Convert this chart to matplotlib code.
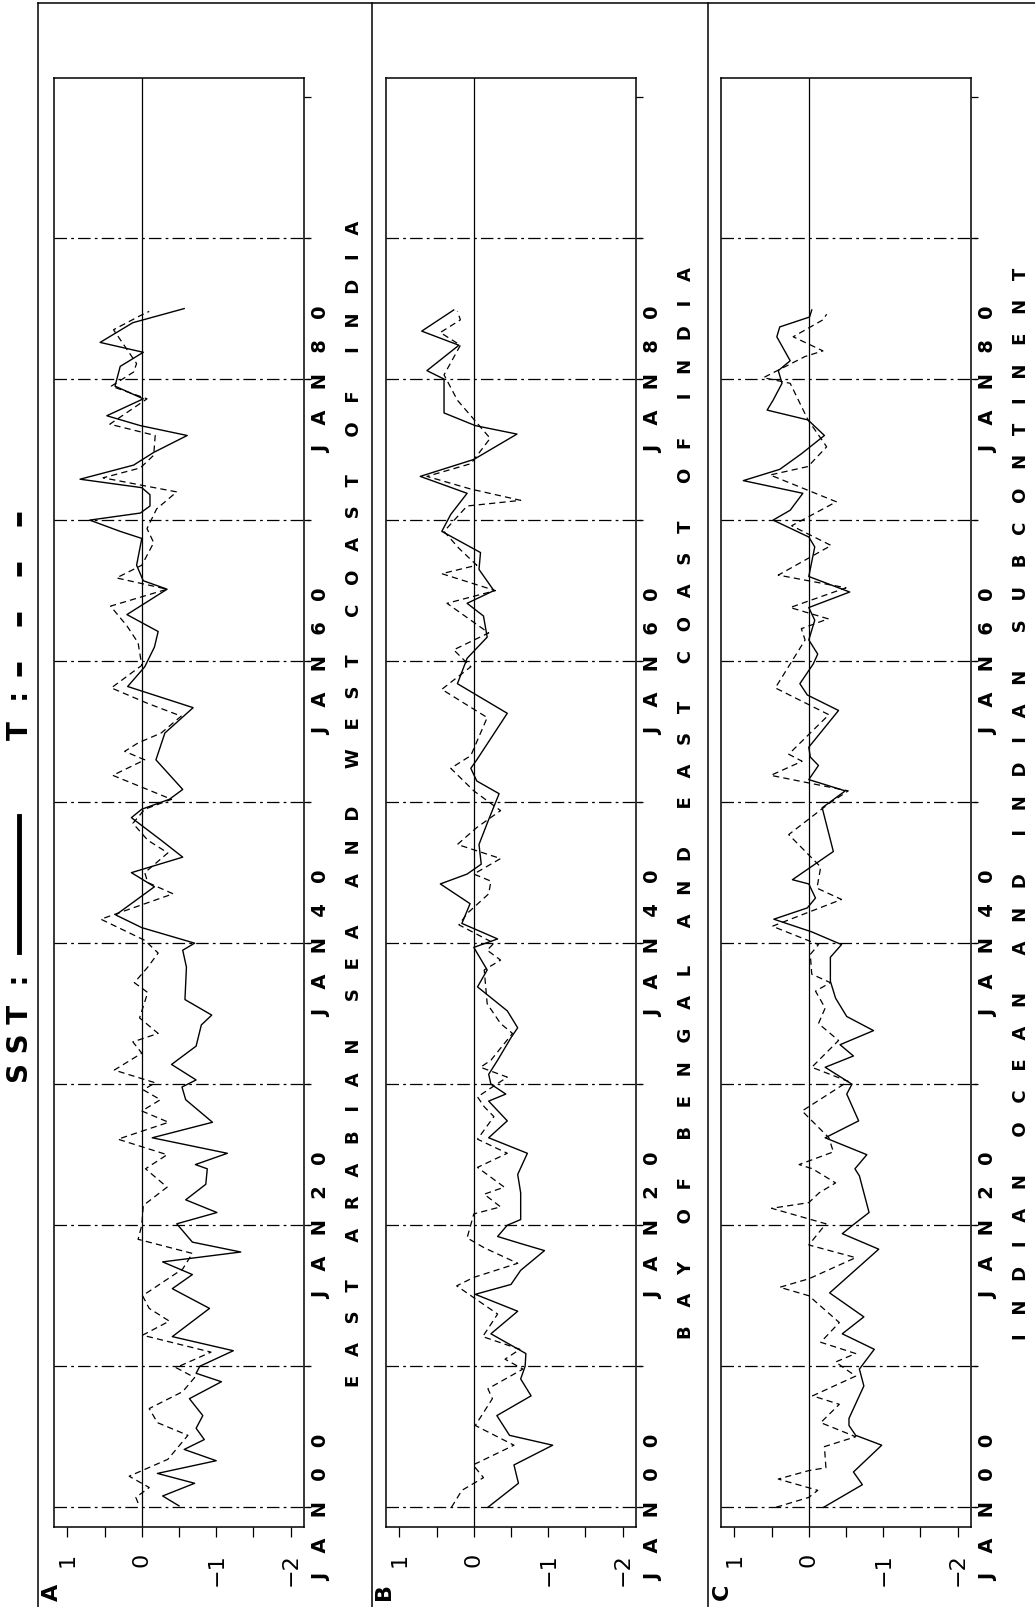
import matplotlib
matplotlib.use("Agg")
import matplotlib.pyplot as plt
from matplotlib.lines import Line2D

plt.rcParams['font.family'] = ['DejaVu Sans']
plt.rcParams['lines.scale_dashes'] = False

# ---- data (year, anomaly) ----
# panel A: East Arabian Sea and west coast of India
a_sst_year = [1900.1, 1900.8, 1901.7, 1902.4, 1903.3, 1904.1, 1904.8, 1905.6, 1906.5, 1907.7,
              1908.9, 1909.5, 1910.0, 1911.1, 1912.1, 1914.1, 1915.5, 1916.5, 1917.4, 1918.1,
              1918.8, 1920.1, 1920.9, 1921.8, 1922.9, 1924.0, 1924.3, 1925.1, 1926.2, 1927.3,
              1928.9, 1929.8, 1930.3, 1931.4, 1932.7, 1934.2, 1934.9, 1936.0, 1938.3, 1939.5,
              1940.0, 1941.1, 1942.0, 1944.0, 1945.0, 1946.1, 1947.3, 1948.9, 1949.5, 1950.2,
              1950.9, 1953.0, 1954.9, 1956.7, 1958.2, 1959.6, 1961.0, 1962.1, 1963.3, 1965.1,
              1965.7, 1966.8, 1968.7, 1969.2, 1970.0, 1970.5, 1971.0, 1971.8, 1972.3, 1972.9,
              1973.9, 1974.8, 1976.0, 1976.7, 1977.4, 1978.6, 1979.5, 1980.9, 1981.9, 1982.6,
              1984.0, 1985.0]
a_sst = [-0.50, -0.28, -0.71, -0.21, -1.00, -0.57, -0.84, -0.73, -0.82, -0.64,
         -1.07, -0.73, -0.78, -1.23, -0.41, -0.91, -0.41, -0.68, -0.28, -1.33,
         -0.68, -0.47, -1.01, -0.59, -0.86, -0.88, -0.72, -1.15, -0.14, -0.95,
         -0.59, -0.54, -0.73, -0.40, -0.73, -0.80, -0.94, -0.58, -0.60, -0.55,
         -0.71, 0.00, 0.35, -0.17, 0.14, -0.55, -0.26, 0.14, 0.00, -0.37,
         -0.55, -0.19, -0.31, -0.69, 0.19, -0.04, -0.17, -0.22, 0.20, -0.34,
         -0.02, 0.07, 0.00, 0.29, 0.70, 0.02, -0.11, -0.11, 0.00, 0.83,
         0.11, -0.16, -0.61, 0.02, 0.47, -0.02, 0.36, 0.29, -0.02, 0.56,
         0.12, -0.57]
a_t_year = [1900.3, 1900.7, 1901.4, 1902.2, 1903.4, 1905.1, 1906.0, 1907.0, 1908.2, 1909.2,
            1909.9, 1911.0, 1912.2, 1913.2, 1914.1, 1915.0, 1916.9, 1918.0, 1919.0, 1920.0,
            1921.4, 1922.7, 1924.0, 1925.0, 1926.1, 1927.3, 1928.1, 1928.9, 1929.6, 1930.1,
            1931.0, 1932.2, 1933.0, 1933.6, 1934.7, 1936.5, 1937.2, 1938.3, 1939.3, 1940.2,
            1941.7, 1943.5, 1944.3, 1945.0, 1946.4, 1947.3, 1948.5, 1949.5, 1950.2, 1951.9,
            1953.0, 1953.6, 1954.2, 1954.9, 1956.1, 1957.0, 1958.1, 1959.7, 1961.3, 1962.5,
            1963.9, 1965.1, 1965.9, 1966.8, 1968.4, 1969.4, 1970.8, 1972.0, 1972.4, 1973.0,
            1973.7, 1974.6, 1976.0, 1976.8, 1978.6, 1979.5, 1980.5, 1981.1, 1983.5, 1984.5,
            1984.8]
a_t = [0.05, 0.08, -0.10, 0.17, -0.35, -0.62, -0.21, -0.10, -0.55, -0.71,
       -0.46, -0.93, -0.01, -0.37, -0.10, -0.01, -0.55, -0.68, 0.05, 0.00,
       -0.02, -0.34, -0.05, -0.34, 0.32, -0.36, 0.00, -0.25, -0.02, -0.18,
       0.37, 0.00, 0.12, -0.22, 0.03, -0.08, 0.10, -0.08, -0.22, -0.04,
       0.55, -0.42, -0.08, -0.04, -0.35, -0.08, 0.12, -0.04, -0.40, 0.39,
       -0.04, 0.23, 0.05, -0.26, -0.53, -0.08, 0.41, 0.00, 0.05, 0.20,
       0.42, -0.34, 0.34, 0.00, -0.16, -0.07, -0.20, -0.47, -0.07, 0.52,
       0.02, -0.16, -0.18, 0.43, -0.07, 0.41, 0.11, 0.07, 0.38, 0.02,
       -0.10]

# panel B: Bay of Bengal and east coast of India
b_sst_year = [1900.0, 1901.7, 1903.0, 1904.4, 1905.1, 1906.5, 1907.9, 1909.1, 1910.0, 1910.9,
              1912.3, 1913.9, 1915.1, 1915.8, 1916.8, 1918.2, 1918.7, 1919.2, 1920.0, 1920.4,
              1922.3, 1923.6, 1925.1, 1926.2, 1927.4, 1928.8, 1929.3, 1930.0, 1930.7, 1931.7,
              1933.3, 1934.0, 1935.2, 1936.9, 1938.1, 1939.7, 1940.3, 1941.4, 1942.8, 1944.2,
              1944.9, 1945.6, 1947.0, 1948.5, 1950.6, 1951.5, 1952.4, 1953.0, 1956.3, 1958.4,
              1960.2, 1961.7, 1963.2, 1964.1, 1965.0, 1966.5, 1967.7, 1969.2, 1970.4, 1971.9,
              1973.1, 1974.3, 1976.1, 1976.7, 1977.6, 1980.0, 1980.6, 1982.4, 1983.4, 1984.9]
b_sst = [-0.19, -0.60, -0.54, -1.06, -0.48, -0.31, -0.77, -0.63, -0.69, -0.70,
         -0.23, -0.59, -0.02, -0.50, -0.63, -0.95, -0.63, -0.32, -0.45, -0.63,
         -0.63, -0.59, -0.72, -0.20, -0.45, -0.20, -0.43, -0.23, -0.20, -0.32,
         -0.50, -0.59, -0.45, -0.05, -0.18, 0.00, -0.32, 0.16, 0.05, 0.45,
         0.09, -0.10, -0.07, -0.18, -0.34, -0.04, 0.04, -0.04, -0.45, 0.22,
         0.09, -0.18, -0.13, 0.09, -0.27, -0.07, -0.09, 0.43, 0.31, 0.09,
         0.72, 0.00, -0.58, -0.02, 0.40, 0.40, 0.63, 0.20, 0.70, 0.27]
b_t_year = [1900.0, 1901.2, 1902.1, 1903.0, 1904.4, 1905.8, 1907.7, 1908.4, 1909.8, 1910.5,
            1911.2, 1912.1, 1913.7, 1915.7, 1916.3, 1917.3, 1918.4, 1919.1, 1920.8, 1921.3,
            1922.2, 1922.7, 1924.1, 1925.1, 1926.1, 1927.7, 1928.4, 1929.1, 1930.5, 1931.2,
            1931.7, 1933.6, 1934.3, 1935.7, 1938.1, 1938.8, 1939.5, 1940.0, 1941.3, 1942.1,
            1943.5, 1944.4, 1944.9, 1946.0, 1947.0, 1948.2, 1949.4, 1950.8, 1952.4, 1953.3,
            1956.0, 1958.0, 1959.6, 1960.8, 1962.0, 1964.1, 1965.0, 1966.2, 1966.8, 1968.0,
            1969.2, 1971.0, 1971.4, 1972.2, 1973.1, 1974.0, 1975.8, 1978.5, 1980.3, 1982.4,
            1983.3, 1984.2, 1984.8]
b_t = [0.30, 0.16, -0.13, 0.01, -0.54, -0.02, -0.25, -0.19, -0.66, -0.42,
       -0.62, -0.12, -0.32, 0.23, 0.00, -0.59, -0.14, 0.09, 0.00, -0.36,
       -0.14, -0.41, -0.05, -0.45, -0.05, -0.27, -0.14, -0.05, -0.45, -0.09,
       -0.23, -0.52, -0.36, -0.18, -0.14, -0.36, -0.18, -0.27, 0.20, 0.09,
       -0.20, -0.23, 0.00, -0.36, 0.22, -0.04, -0.36, 0.00, 0.31, 0.04,
       -0.18, 0.43, 0.04, 0.27, -0.20, 0.36, -0.29, 0.43, -0.04, 0.20,
       0.40, 0.09, -0.63, 0.04, 0.63, 0.04, -0.22, 0.22, 0.40, 0.18,
       0.45, 0.18, 0.22]

# panel C: Indian Ocean and Indian subcontinent
c_sst_year = [1900.0, 1901.6, 1902.5, 1904.4, 1905.1, 1905.8, 1906.3, 1908.6, 1909.8, 1911.2,
              1912.3, 1913.5, 1915.2, 1918.3, 1919.4, 1920.0, 1920.9, 1923.5, 1924.0, 1925.0,
              1926.2, 1927.4, 1929.3, 1930.0, 1931.2, 1932.0, 1932.8, 1933.8, 1934.8, 1936.1,
              1937.3, 1939.0, 1939.9, 1940.8, 1941.7, 1942.5, 1943.2, 1944.2, 1944.5, 1946.5,
              1949.6, 1950.8, 1951.6, 1952.6, 1953.2, 1953.9, 1956.5, 1957.6, 1958.4, 1959.8,
              1960.5, 1961.5, 1962.9, 1963.8, 1964.9, 1966.0, 1968.1, 1968.8, 1970.0, 1970.7,
              1971.9, 1972.8, 1973.6, 1974.7, 1976.0, 1977.1, 1977.8, 1978.5, 1979.7, 1980.6,
              1981.3, 1983.0, 1983.7, 1984.4, 1984.9]
c_sst = [-0.20, -0.72, -0.60, -0.98, -0.63, -0.54, -0.54, -0.74, -0.68, -0.88,
         -0.45, -0.74, -0.28, -0.94, -0.45, -0.59, -0.81, -0.68, -0.62, -0.78,
         -0.22, -0.67, -0.51, -0.58, -0.22, -0.60, -0.42, -0.87, -0.51, -0.36,
         -0.29, -0.29, -0.44, -0.04, 0.47, 0.02, -0.09, 0.00, 0.22, -0.33,
         -0.18, -0.49, 0.00, -0.13, -0.02, 0.00, -0.40, 0.02, 0.12, -0.06,
         -0.12, 0.00, -0.08, 0.00, -0.55, 0.00, -0.08, 0.00, 0.48, 0.25,
         0.08, 0.88, 0.39, 0.10, -0.21, 0.01, 0.56, 0.48, 0.36, 0.41,
         0.25, 0.43, 0.39, -0.01, -0.04]
c_t_year = [1900.0, 1900.7, 1901.2, 1902.0, 1902.6, 1902.8, 1904.3, 1905.0, 1906.0, 1907.3,
            1907.9, 1909.3, 1910.3, 1910.9, 1911.7, 1913.1, 1915.0, 1915.6, 1916.2, 1917.7,
            1918.6, 1920.1, 1921.2, 1921.6, 1922.3, 1923.0, 1924.0, 1924.3, 1925.2, 1926.2,
            1928.1, 1930.2, 1931.2, 1933.1, 1934.3, 1935.4, 1936.6, 1937.2, 1937.8, 1939.2,
            1939.9, 1941.2, 1943.1, 1943.9, 1945.4, 1947.7, 1949.9, 1950.8, 1951.9, 1952.9,
            1953.4, 1956.2, 1958.1, 1959.8, 1961.5, 1962.3, 1963.0, 1963.8, 1965.2, 1966.1,
            1968.2, 1969.6, 1971.3, 1973.2, 1973.8, 1975.2, 1977.1, 1979.7, 1980.1, 1981.6,
            1982.0, 1983.0, 1984.2, 1984.6]
c_t = [0.44, 0.00, -0.12, 0.41, 0.00, -0.23, -0.21, -0.63, -0.16, -0.41,
       -0.05, -0.63, -0.36, -0.63, -0.16, -0.41, 0.00, 0.39, 0.00, -0.63,
       0.00, -0.23, 0.50, 0.00, -0.14, -0.36, -0.05, 0.13, -0.33, -0.27,
       0.09, -0.53, -0.04, -0.40, -0.13, -0.22, -0.09, -0.29, -0.04, -0.02,
       -0.13, 0.49, -0.44, -0.11, -0.16, 0.27, -0.27, -0.53, 0.51, 0.09,
       0.27, -0.27, 0.45, 0.25, 0.05, 0.10, -0.26, 0.25, -0.50, 0.41,
       -0.30, 0.23, -0.37, 0.52, 0.01, -0.24, 0.01, 0.25, 0.61, 0.05,
       -0.19, 0.21, -0.19, -0.24]

panel_letters = ['A', 'B', 'C']
region_titles = ['EAST ARABIAN SEA AND WEST COAST OF INDIA',
                 'BAY OF BENGAL AND EAST COAST OF INDIA',
                 'INDIAN OCEAN AND INDIAN SUBCONTINENT']
value_ticks = [1, 0, -1, -2]
value_labels = ['1', '0', '\u22121', '\u22122']
decades = list(range(1900, 2001, 10))

panels = [
    (a_sst_year, a_sst, a_t_year, a_t),
    (b_sst_year, b_sst, b_t_year, b_t),
    (c_sst_year, c_sst, c_t_year, c_t),
]

W, H = 1035, 1608
fig = plt.figure(figsize=(W / 100, H / 100), dpi=100)


def spaced(text, gap=3, word_gap=6):
    # the plotter font is very widely spaced, fake it with blanks
    return (' ' * word_gap).join((' ' * gap).join(w) for w in text.split(' '))


def px(x, y):
    # pixel position in the scan -> figure fraction
    return x / W, 1 - y / H


axes_left = [54, 386, 721]
for i, (sy, sv, ty, tv) in enumerate(panels):
    l = axes_left[i]
    ax = fig.add_axes([l / W, (H - 1528) / H, 250 / W, (1528 - 79) / H])
    ax.plot(sv, sy, color='black', lw=1.0)
    ax.plot(tv, ty, color='black', lw=0.9, dashes=(4.5, 3))
    ax.axvline(0, color='black', lw=0.9)
    for yr in decades[:-1]:
        ax.axhline(yr, xmin=0, xmax=1.03, color='black', lw=0.9,
                   dashes=(9, 3, 2, 3), clip_on=False)
    ax.set_xlim(1.18, -2.18)
    ax.set_ylim(1898.6, 2001.35)

    ax.set_xticks(value_ticks)
    ax.set_xticks([0.5, -0.5, -1.5], minor=True)
    ax.set_xticklabels(value_labels, rotation=90, fontsize=16)
    ax.tick_params(axis='x', which='both', direction='out', length=7, width=0.9, pad=11)

    ax.yaxis.tick_right()
    ax.set_yticks(decades)
    ylabels = ['JAN%02d' % (yr % 100) if yr % 20 == 0 and yr < 2000 else '' for yr in decades]
    ax.set_yticklabels([spaced(s) for s in ylabels], rotation=90, fontsize=14,
                       fontweight='bold', va='center')
    ax.tick_params(axis='y', direction='out', length=5, width=0.9, pad=1)

    for sp in ax.spines.values():
        sp.set_linewidth(1.1)

    ax.text(1.2, 0.5, spaced(region_titles[i]), transform=ax.transAxes, rotation=90,
            ha='center', va='center', fontsize=13, fontweight='bold')

# outer panel frames
frame_x = [38, 372, 708]
for x in frame_x:
    fig.add_artist(Line2D(*zip(px(x, 4), px(x, H)), color='black', lw=1.1))
fig.add_artist(Line2D(*zip(px(38, 4), px(W, 4)), color='black', lw=1.1))

for x, letter in zip([52, 384, 722], panel_letters):
    fig.text(*px(x, 1592), letter, rotation=90, ha='center', va='center',
             fontsize=16, fontweight='bold')

# legend drawn by hand in the left margin
fig.text(*px(20, 1083), 'S S T  :', rotation=90, ha='center', va='bottom',
         fontsize=20, fontweight='bold')
fig.add_artist(Line2D(*zip(px(19, 953), px(19, 817)), color='black', lw=3.5))
fig.text(*px(20, 740), 'T  :', rotation=90, ha='center', va='bottom',
         fontsize=20, fontweight='bold')
fig.add_artist(Line2D(*zip(px(19, 677), px(19, 505)), color='black', lw=3.5,
                      dashes=(10, 26)))

fig.savefig('out.png', dpi=100)
